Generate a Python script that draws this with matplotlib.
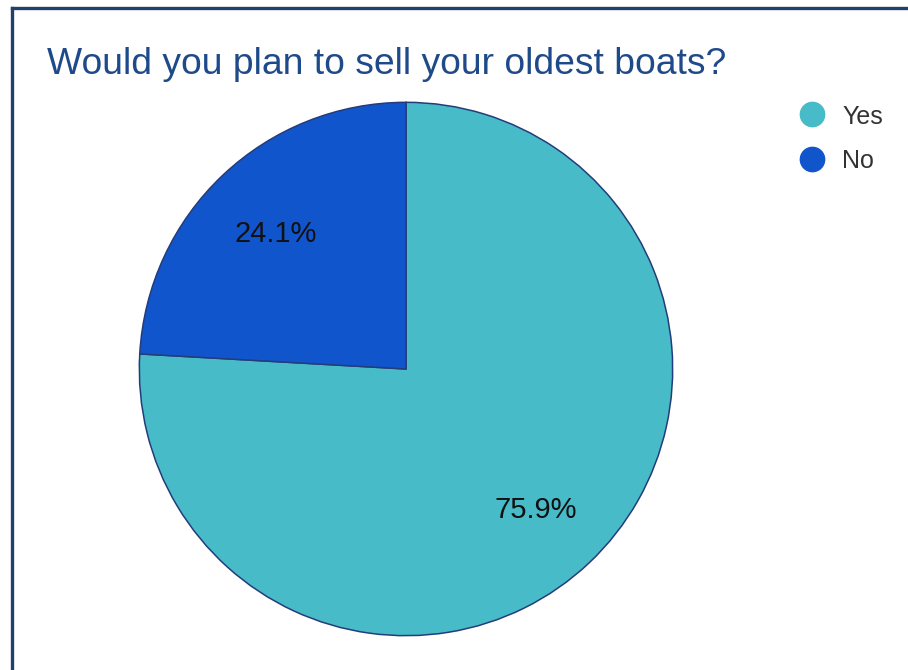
import matplotlib
matplotlib.use("Agg")
import matplotlib.pyplot as plt
from matplotlib.lines import Line2D

plt.rcParams['font.family'] = ['Liberation Sans', 'DejaVu Sans']

title = "Would you plan to sell your oldest boats?"
categories = ["Yes", "No"]
values = [75.9, 24.1]
colors = ["#47BBC7", "#1155CC"]

W, H = 908, 670
fig = plt.figure(figsize=(W / 100, H / 100), dpi=100)
fig.patch.set_facecolor("white")

# frame on the left and top edges
border = "#22406A"
fig.add_artist(Line2D([11.5 / W, 11.5 / W], [0, 1 - 7.5 / H], transform=fig.transFigure,
                      color=border, lw=2.4, solid_capstyle="projecting"))
fig.add_artist(Line2D([11.5 / W, 1], [1 - 7.5 / H, 1 - 7.5 / H], transform=fig.transFigure,
                      color=border, lw=2.4, solid_capstyle="projecting"))

fig.text(47 / W, 1 - 74.5 / H, title, color="#1F4A8A", fontsize=26.8, ha="left", va="baseline")

# pie area: square box in pixels
cx, cy, r = 406, 369, 268
ax = fig.add_axes([(cx - r) / W, (H - cy - r) / H, 2 * r / W, 2 * r / H])
wedges, texts, autotexts = ax.pie(
    values, colors=colors, startangle=90, counterclock=False,
    autopct="%.1f%%", pctdistance=0.71, radius=1,
    wedgeprops=dict(edgecolor="#253C7A", linewidth=1.1),
    textprops=dict(fontsize=21, color="#111111"),
)
for t in autotexts:
    t.set_verticalalignment("center_baseline")
ax.set_xlim(-1.005, 1.005)
ax.set_ylim(-1.005, 1.005)
ax.axis("off")

# legend with round markers
for i, (lab, col) in enumerate(zip(categories, colors)):
    y = 114 + 45 * i
    fig.add_artist(Line2D([812 / W], [1 - y / H], transform=fig.transFigure, marker="o",
                          markersize=17.5, markerfacecolor=col, markeredgecolor=col, lw=0))
    fig.text(842 / W, 1 - y / H, lab, fontsize=18, color="#333333", ha="left",
             va="center_baseline")

fig.savefig("out.png", dpi=100)
